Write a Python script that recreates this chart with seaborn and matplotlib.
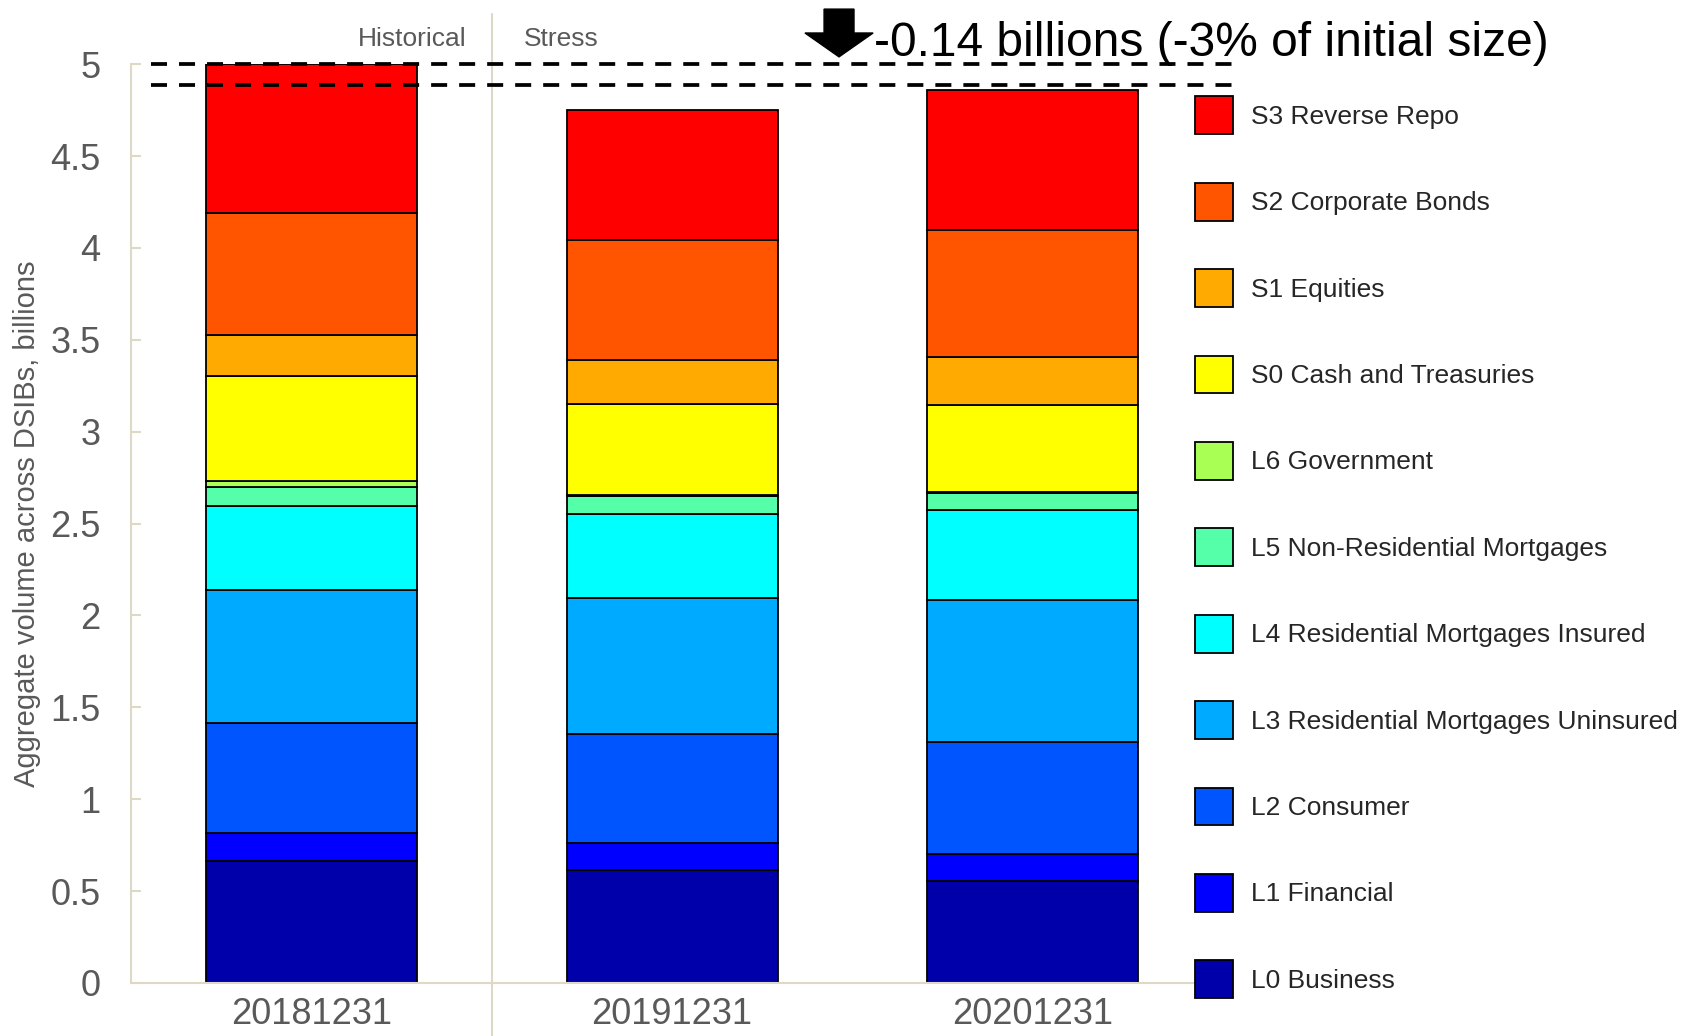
import numpy as np
import pandas as pd
import matplotlib
matplotlib.use("Agg")
import matplotlib.pyplot as plt
import seaborn as sns
from matplotlib.patches import Patch

# ---------------- data ----------------
dates = ["20181231", "20191231", "20201231"]
period_labels = ["Historical", "Stress"]
n_historical = 1

categories = [
    "S3 Reverse Repo", "S2 Corporate Bonds", "S1 Equities", "S0 Cash and Treasuries",
    "L6 Government", "L5 Non-Residential Mortgages", "L4 Residential Mortgages Insured",
    "L3 Residential Mortgages Uninsured", "L2 Consumer", "L1 Financial", "L0 Business",
]
colors = ["#FF0000", "#FF5500", "#FFAA00", "#FFFF00", "#AAFF55", "#55FFAA",
          "#00FFFF", "#00AAFF", "#0055FF", "#0000FF", "#0000AA"]

s3 = [0.807, 0.708, 0.762]
s2 = [0.668, 0.650, 0.688]
s1 = [0.223, 0.243, 0.261]
s0 = [0.572, 0.492, 0.474]
l6 = [0.030, 0.008, 0.009]
l5 = [0.106, 0.099, 0.092]
l4 = [0.455, 0.456, 0.487]
l3 = [0.723, 0.740, 0.774]
l2 = [0.598, 0.591, 0.609]
l1 = [0.156, 0.147, 0.147]
l0 = [0.662, 0.617, 0.556]
series = [s3, s2, s1, s0, l6, l5, l4, l3, l2, l1, l0]

# dashed reference levels as drawn in the chart (initial size, size after stress)
dashed_levels = [5.00, 4.887]

rows = []
for cat, vals in zip(categories, series):
    for i, v in enumerate(vals):
        rows.append({"pos": i, "category": cat, "value": v})
df = pd.DataFrame(rows)

totals = df.groupby("pos")["value"].sum().values
change = totals[-1] - totals[0]
pct = change / totals[0] * 100

# ---------------- style ----------------
sns.set_style("white")
plt.rcParams["font.family"] = ["Liberation Sans", "DejaVu Sans"]
beige = "#DDD9C4"
grey = "#595959"

fig = plt.figure(figsize=(16.96, 10.36), dpi=100)
ax = fig.add_axes([0.0772, 0.0512, 0.6268, 0.8868])

sns.histplot(data=df, x="pos", weights="value", hue="category",
             hue_order=categories, palette=colors, multiple="stack",
             discrete=True, shrink=0.585, alpha=1, edgecolor="black",
             linewidth=1.3, legend=False, ax=ax)

ax.set_xlim(-0.5, 2.447)
ax.set_ylim(0, 5)
ax.set_xticks(range(len(dates)))
ax.set_xticklabels(dates)
yt = np.arange(0, 5.01, 0.5)
ax.set_yticks(yt)
ax.set_yticklabels([f"{v:g}" for v in yt])
ax.set_xlabel("")
ax.set_ylabel("Aggregate volume across DSIBs, billions", fontsize=21, color=grey)
ax.yaxis.set_label_coords(-0.085, 0.5)

for side in ["top", "right"]:
    ax.spines[side].set_visible(False)
for side in ["left", "bottom"]:
    ax.spines[side].set_color(beige)
    ax.spines[side].set_linewidth(1.5)

ax.tick_params(axis="y", direction="in", length=7, width=1.5, color=beige,
               pad=22, labelsize=26, labelcolor=grey, left=True)
ax.tick_params(axis="x", length=0, pad=10, labelsize=26, labelcolor=grey)

# separator between historical and stress periods
sep = n_historical - 0.5
ax.axvline(sep, ymin=-0.06, ymax=1.055, color=beige, lw=1.5, clip_on=False, zorder=0)
ax.annotate(period_labels[0], xy=(sep, 5.14), xytext=(-18, 0), textcoords="offset points",
            ha="right", va="center", fontsize=19, color=grey, annotation_clip=False)
ax.annotate(period_labels[1], xy=(sep, 5.14), xytext=(23, 0), textcoords="offset points",
            ha="left", va="center", fontsize=19, color=grey, annotation_clip=False)

# dashed reference lines
ax.hlines(dashed_levels, -0.444, 2.555, colors="black", lw=2.7,
          linestyles=[(0, (4.27, 3.2))], clip_on=False, zorder=5)

# arrow + change annotation
ax.arrow(1.463, 5.30, 0, -0.26, width=0.083, head_width=0.189, head_length=0.13,
         length_includes_head=True, color="black", clip_on=False, zorder=6)
ax.text(1.559, 5.115, f"{change:.2f} billions ({pct:.0f}% of initial size)",
        fontsize=34.5, color="black", ha="left", va="center", clip_on=False)

# legend
handles = [Patch(facecolor=c, edgecolor="black", linewidth=1.3) for c in colors]
fig.legend(handles, categories, loc="upper left", bbox_to_anchor=(0.7046, 0.907),
           frameon=False, fontsize=19, handlelength=1.44, handleheight=1.83,
           handletextpad=0.7, labelspacing=1.84, borderpad=0, borderaxespad=0)

fig.savefig("out.png", dpi=100)
